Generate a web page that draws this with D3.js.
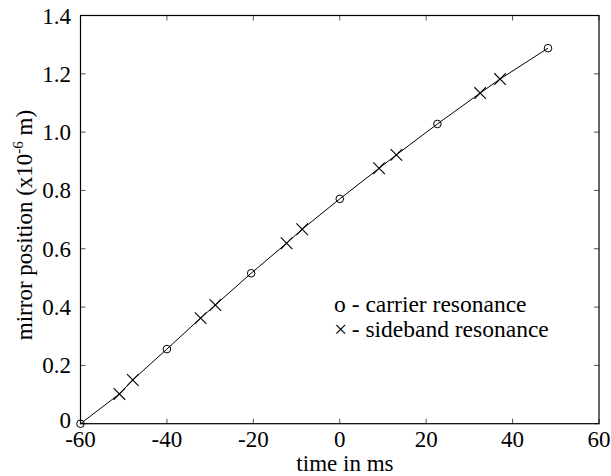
<!DOCTYPE html>
<html>
<head>
<meta charset="utf-8">
<script src="https://cdn.jsdelivr.net/npm/d3@7"></script>
<style>
  body { margin: 0; background: #fff; }
  text { font-family: "Liberation Serif", "Times New Roman", serif; }
</style>
</head>
<body>
<div id="chart"></div>
<script>
// data
var carrierTime = [-60, -40, -20.5, 0, 22.6, 48.2];
var carrierPos = [0, 0.256, 0.516, 0.771, 1.028, 1.288];
var sidebandTime = [-51, -47.9, -32.2, -28.8, -12.3, -8.7, 9.1, 13.1, 32.5, 37.1];
var sidebandPos = [0.102, 0.150, 0.362, 0.407, 0.619, 0.667, 0.876, 0.922, 1.134, 1.182];
var xTicks = [-60, -40, -20, 0, 20, 40, 60];
var yTicks = [0, 0.2, 0.4, 0.6, 0.8, 1.0, 1.2, 1.4];

var margin = { top: 15.5, right: 12, bottom: 52.3, left: 80.5 },
	W = 611, H = 476,
	width = W - margin.left - margin.right,
	height = H - margin.top - margin.bottom;

var svg = d3.select('#chart').append('svg')
	.attr('width', W)
	.attr('height', H);

var g = svg.append('g')
	.attr('transform', 'translate(' + margin.left + ',' + margin.top + ')');

var x = d3.scaleLinear().domain([-60, 60]).range([0, width]);
var y = d3.scaleLinear().domain([0, 1.4]).range([height, 0]);

// all points along the curve, sorted by time
var curve = carrierTime.map((t, i) => [t, carrierPos[i]])
	.concat(sidebandTime.map((t, i) => [t, sidebandPos[i]]))
	.sort((a, b) => a[0] - b[0]);

// ticks, inward on all four sides
var tickLen = 5;
var ticks = g.append('g').attr('stroke', '#555').attr('stroke-width', 1);
xTicks.forEach(function (v) {
	ticks.append('line').attr('x1', x(v)).attr('x2', x(v)).attr('y1', height).attr('y2', height - tickLen);
	ticks.append('line').attr('x1', x(v)).attr('x2', x(v)).attr('y1', 0).attr('y2', tickLen);
});
yTicks.forEach(function (v) {
	ticks.append('line').attr('x1', 0).attr('x2', tickLen).attr('y1', y(v)).attr('y2', y(v));
	ticks.append('line').attr('x1', width).attr('x2', width - tickLen).attr('y1', y(v)).attr('y2', y(v));
});

g.append('rect')
	.attr('width', width)
	.attr('height', height)
	.attr('fill', 'none')
	.attr('stroke', '#000')
	.attr('stroke-width', 1.2);

// tick labels
var fs = 23;
g.selectAll('.xlab').data(xTicks).enter().append('text')
	.attr('x', d => x(d))
	.attr('y', height + 23)
	.attr('text-anchor', 'middle')
	.attr('font-size', fs)
	.text(d => d);

g.selectAll('.ylab').data(yTicks).enter().append('text')
	.attr('x', -9.5)
	.attr('y', d => y(d) + (d === 0 ? 4.5 : 8))
	.attr('text-anchor', 'end')
	.attr('font-size', fs)
	.text(d => d === 0 ? '0' : d.toFixed(1));

// axis titles
g.append('text')
	.attr('x', x(1.2))
	.attr('y', height + 47)
	.attr('text-anchor', 'middle')
	.attr('font-size', fs)
	.text('time in ms');

var ylab = svg.append('text')
	.attr('transform', 'translate(32,225) rotate(-90)')
	.attr('text-anchor', 'middle')
	.attr('font-size', 23);
ylab.append('tspan').text('mirror position (x10');
ylab.append('tspan').attr('dy', -9).attr('font-size', 15).text('-6');
ylab.append('tspan').attr('dy', 9).text(' m)');

// the line
g.append('path')
	.datum(curve)
	.attr('fill', 'none')
	.attr('stroke', '#000')
	.attr('stroke-width', 1)
	.attr('d', d3.line().x(d => x(d[0])).y(d => y(d[1])));

// carrier markers
g.selectAll('.carrier').data(carrierTime).enter().append('circle')
	.attr('cx', d => x(d))
	.attr('cy', (d, i) => y(carrierPos[i]))
	.attr('r', 3.8)
	.attr('fill', 'none')
	.attr('stroke', '#000')
	.attr('stroke-width', 1);

// sideband markers
var s = 5.8;
g.selectAll('.sideband').data(sidebandTime).enter().append('path')
	.attr('transform', (d, i) => 'translate(' + x(d) + ',' + y(sidebandPos[i]) + ')')
	.attr('d', 'M' + -s + ',' + -s + 'L' + s + ',' + s + 'M' + -s + ',' + s + 'L' + s + ',' + -s)
	.attr('fill', 'none')
	.attr('stroke', '#000')
	.attr('stroke-width', 1.1);

// legend
var legX = 334 - margin.left, legY = 311.7 - margin.top, dashX = 351.7 - margin.left;
g.append('text').attr('x', legX).attr('y', legY).attr('font-size', fs + 0.5).text('o');
g.append('text').attr('x', dashX).attr('y', legY).attr('font-size', fs + 0.5).text('- carrier resonance');
g.append('text').attr('x', legX).attr('y', legY + 25).attr('font-size', fs + 0.5).text('\u00d7');
g.append('text').attr('x', dashX).attr('y', legY + 25).attr('font-size', fs + 0.5).text('- sideband resonance');
</script>
</body>
</html>
